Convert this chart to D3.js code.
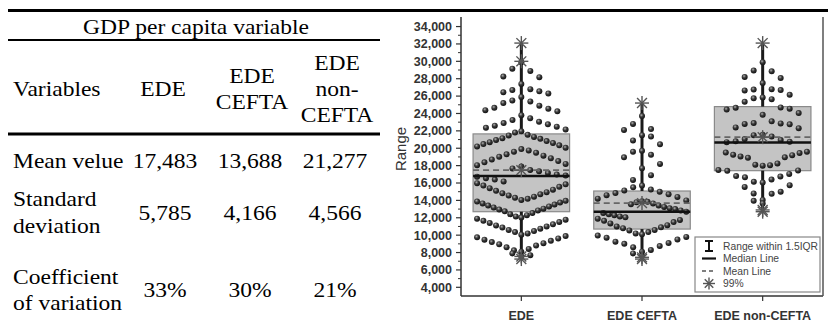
<!DOCTYPE html>
<html>
<head>
<meta charset="utf-8">
<script src="https://cdn.jsdelivr.net/npm/d3@7"></script>
<style>
  html, body { margin: 0; padding: 0; background: #fff; }
  svg { display: block; }
</style>
</head>
<body>
<svg id="fig" width="828" height="322"></svg>
<script>
// ---------- table content ----------
const groups = ["EDE", "EDE CEFTA", "EDE non-CEFTA"];
const tableTitle = "GDP per capita variable";
const firstHeader = "Variables";
const headerLines = [["EDE"], ["EDE", "CEFTA"], ["EDE", "non-", "CEFTA"]];
const rowLabels = [["Mean velue"], ["Standard", "deviation"], ["Coefficient", "of variation"]];
const meanValues = [17483, 13688, 21277];
const stdValues = [5785, 4166, 4566];
const cvValues = [0.33, 0.30, 0.21];

// ---------- box statistics per group ----------
const q1Values = [12700, 10700, 17420];
const medianValues = [16800, 12700, 20650];
const q3Values = [21650, 15080, 24790];
const whiskerLow = [7300, 7300, 12800];
const whiskerHigh = [32100, 25200, 32100];
const percentileMarks = [[32100, 30000, 7550, 7250], [25200, 7450, 7250], [32100, 12900, 12700]];

// ---------- individual observations ----------
const edeValues = [
  29900, 29150, 28900, 28250, 28180, 27400, 26800, 26700, 26550, 26450, 26300, 25900, 25500,
  25380, 25200, 24900, 24650, 24550, 24380, 24250, 23800, 23450, 23250, 23050, 22900, 22750,
  22600, 22480, 22350, 22150, 21950, 21800,
  21550, 21470, 21300, 21150, 21080, 20950, 20820, 20700, 20600, 20480, 20330, 20200, 20050,
  19900, 19750, 19600, 19480, 19300, 19150, 19020, 18850, 18700, 18520, 18380, 18200, 18050,
  17900, 17680, 17500, 17350, 17150, 16980, 16850, 16720, 16550, 16400, 16180, 15980, 15850,
  15700, 15560, 15400, 15230, 15100, 14950, 14820, 14700, 14560, 14420, 14300, 14180, 14050,
  13950, 13870, 13750, 13650, 13520, 13400, 13300, 13180, 13050, 12950, 12850, 12750,
  12550, 12420, 12300, 12150, 12020, 11900, 11780, 11650, 11520, 11400, 11250, 11120, 11000,
  10880, 10750, 10600, 10480, 10350, 10200, 10050, 9900, 9750, 9620, 9480, 9350, 9200, 9080,
  8950, 8800, 8600, 8420, 8250, 8080, 7900, 7700, 7550
];
const ceftaValues = [
  23700, 22800, 22200, 22100, 21500, 21350, 20900, 20450, 19700, 19600, 19250, 18950, 18200,
  17700, 16900, 16350, 15700, 15500, 15250, 15150, 15000, 14850, 14700, 14600, 14400, 14200,
  14000, 13900, 13850, 13800, 13650, 13550, 13400, 13250, 13100, 13000, 12850, 12700, 12550,
  12400, 12300, 12150, 12050, 11900, 11750, 11650, 11500, 11350, 11150, 11000, 10900, 10800,
  10600, 10550, 10350, 10200, 10100, 9950, 9800, 9700, 9500, 9250, 9100, 9000, 8750, 8600,
  8300, 8100, 7900, 7600
];
const nonCeftaValues = [
  29900, 28950, 28850, 28200, 28080, 27500, 26800, 26750, 26700, 26650, 26150, 25850, 25750,
  25650, 25350, 24700, 24650, 24550, 24450, 24050, 23850, 23100, 22900, 22850, 22800, 22750,
  22400, 22300, 21550, 21500, 21350, 21050, 20950, 20800, 20750, 20700, 19600, 19500, 19450,
  19250, 19200, 19050, 18950, 18900, 18250, 18100, 18050, 18000, 17500, 17450, 17400, 17050,
  16800, 16750, 16650, 16400, 16150, 16050, 15750, 15550, 15000, 14800, 14750, 14050, 13950,
  13650
];
const observations = [edeValues, ceftaValues, nonCeftaValues];

// ---------- axis ticks ----------
const majorTicks = [4000, 6000, 8000, 10000, 12000, 14000, 16000, 18000, 20000, 22000, 24000, 26000, 28000, 30000, 32000, 34000];
const minorTicks = [5000, 7000, 9000, 11000, 13000, 15000, 17000, 19000, 21000, 23000, 25000, 27000, 29000, 31000, 33000];
const yTitle = "Range";
const legendLabels = ["Range within 1.5IQR", "Median Line", "Mean Line", "99%"];

const svg = d3.select("#fig");
svg.append("rect").attr("width", 828).attr("height", 322).attr("fill", "#fff");

const serif = "'Liberation Serif', 'Times New Roman', serif";
const sans = "'Liberation Sans', Arial, sans-serif";
const TSX = 1.07; // slight horizontal widening of the table type

// ================= TABLE =================
const tbl = svg.append("g");
const tLeft = 8, tRight = 380;
const colX = d3.scalePoint().domain(groups).range([165, 335]);
const fmt = d3.format(",");
const pct = d3.format(".0%");

function tText(g, str, x, y, anchor) {
  return g.append("text")
    .attr("transform", `translate(${x},${y}) scale(${TSX},1)`)
    .attr("text-anchor", anchor || "middle")
    .attr("font-family", serif).attr("font-size", 22).attr("fill", "#000")
    .text(str);
}

// rules
svg.append("line").attr("x1", tLeft).attr("x2", 828).attr("y1", 10.5).attr("y2", 10.5)
  .attr("stroke", "#000").attr("stroke-width", 3);
tbl.append("line").attr("x1", tLeft).attr("x2", tRight).attr("y1", 40).attr("y2", 40)
  .attr("stroke", "#000").attr("stroke-width", 2);
tbl.append("line").attr("x1", tLeft).attr("x2", tRight).attr("y1", 134).attr("y2", 134)
  .attr("stroke", "#000").attr("stroke-width", 3);

tText(tbl, tableTitle, (tLeft + tRight) / 2 + 2, 34);

// header row: lines stacked around a common baseline
const headBase = 95.5, lineGap = 26.5;
tText(tbl, firstHeader, 13, headBase, "start");
headerLines.forEach((lines, i) => {
  const start = headBase - (lines.length - 1) * 26 / 2;
  lines.forEach((ln, j) => tText(tbl, ln, colX(groups[i]) + (i === 0 ? -2 : 2), start + j * 26));
});

// body rows
const rowBases = [167.8, 219.5, 297];
const rowData = [meanValues.map(fmt), stdValues.map(fmt), cvValues.map(pct)];
rowLabels.forEach((lines, r) => {
  const start = rowBases[r] - (lines.length - 1) * lineGap / 2;
  lines.forEach((ln, j) => tText(tbl, ln, 13, start + j * lineGap, "start"));
  rowData[r].forEach((v, i) => tText(tbl, v, colX(groups[i]), rowBases[r]));
});

// ================= BOX CHART =================
const plot = { left: 461, right: 823, top: 17, bottom: 296 };
const y = d3.scaleLinear().domain([3000, 35100]).range([plot.bottom, plot.top]);
const x = d3.scaleBand().domain(groups).range([plot.left, plot.right]);
const boxW = x.bandwidth() * 0.8;
const axisCol = "#333";

const chart = svg.append("g");

// radial shading for the dot markers
const defs = svg.append("defs");
const grad = defs.append("radialGradient").attr("id", "ball")
  .attr("cx", "40%").attr("cy", "35%").attr("r", "65%");
grad.append("stop").attr("offset", "0%").attr("stop-color", "#b0b0b0");
grad.append("stop").attr("offset", "45%").attr("stop-color", "#3a3a3a");
grad.append("stop").attr("offset", "100%").attr("stop-color", "#111");

// boxes
groups.forEach((gname, i) => {
  const cx = x(gname) + x.bandwidth() / 2;
  chart.append("rect")
    .attr("x", cx - boxW / 2).attr("width", boxW)
    .attr("y", y(q3Values[i])).attr("height", y(q1Values[i]) - y(q3Values[i]))
    .attr("fill", "#c4c4c4").attr("stroke", "#8a8a8a").attr("stroke-width", 1.2);
});

// whiskers
groups.forEach((gname, i) => {
  const cx = x(gname) + x.bandwidth() / 2;
  chart.append("line").attr("x1", cx).attr("x2", cx)
    .attr("y1", y(whiskerHigh[i])).attr("y2", y(q3Values[i]))
    .attr("stroke", "#1a1a1a").attr("stroke-width", 3);
  chart.append("line").attr("x1", cx).attr("x2", cx)
    .attr("y1", y(q1Values[i])).attr("y2", y(whiskerLow[i]))
    .attr("stroke", "#1a1a1a").attr("stroke-width", 3);
});

// lay out the observations: values are binned, and inside each bin the
// points farthest from the median sit in the middle while the rest fan out
function swarm(values, cx, median, halfWidth) {
  const binSize = 2000;
  const bins = d3.group(values, v => Math.floor(v / binSize));
  const out = [];
  let flip = 1;
  for (const [, vs] of bins) {
    const sorted = vs.slice().sort((a, b) => Math.abs(b - median) - Math.abs(a - median));
    const n = sorted.length;
    const half = Math.max(1, Math.ceil((n - 1) / 2));
    const step = Math.min(9, (halfWidth - 4) / half);
    sorted.forEach((v, k) => {
      const level = Math.ceil(k / 2);
      const side = (k % 2 === 1 ? -1 : 1) * flip;
      out.push({ v, px: cx + side * level * step });
    });
    flip = -flip;
  }
  return out;
}

groups.forEach((gname, i) => {
  const cx = x(gname) + x.bandwidth() / 2;
  const pts = swarm(observations[i], cx, medianValues[i], boxW / 2);
  chart.append("g").selectAll("circle").data(pts).join("circle")
    .attr("cx", d => d.px).attr("cy", d => y(d.v)).attr("r", 3)
    .attr("fill", "url(#ball)");
});

// median and mean lines
groups.forEach((gname, i) => {
  const cx = x(gname) + x.bandwidth() / 2;
  chart.append("line").attr("x1", cx - boxW / 2).attr("x2", cx + boxW / 2)
    .attr("y1", y(medianValues[i])).attr("y2", y(medianValues[i]))
    .attr("stroke", "#111").attr("stroke-width", 2.5);
  chart.append("line").attr("x1", cx - boxW / 2).attr("x2", cx + boxW / 2)
    .attr("y1", y(meanValues[i])).attr("y2", y(meanValues[i]))
    .attr("stroke", "#666").attr("stroke-width", 1.6).attr("stroke-dasharray", "6,4");
});

// asterisk markers
function star(g, cx, cy, r) {
  const s = g.append("g").attr("transform", `translate(${cx},${cy})`)
    .attr("stroke", "#555").attr("stroke-width", 1.4);
  [0, 45, 90, 135].forEach(a => {
    const rad = a * Math.PI / 180;
    s.append("line")
      .attr("x1", -r * Math.cos(rad)).attr("y1", -r * Math.sin(rad))
      .attr("x2", r * Math.cos(rad)).attr("y2", r * Math.sin(rad));
  });
}
groups.forEach((gname, i) => {
  const cx = x(gname) + x.bandwidth() / 2;
  percentileMarks[i].forEach(v => star(chart, cx, y(v), 7));
  star(chart, cx, y(meanValues[i]), 7);
});

// axes
const yAxis = chart.append("g");
yAxis.append("line").attr("x1", plot.left).attr("x2", plot.left)
  .attr("y1", plot.top).attr("y2", plot.bottom).attr("stroke", axisCol).attr("stroke-width", 1.5);
majorTicks.forEach(t => {
  yAxis.append("line").attr("x1", plot.left - 5).attr("x2", plot.left)
    .attr("y1", y(t)).attr("y2", y(t)).attr("stroke", axisCol).attr("stroke-width", 1.2);
  yAxis.append("text").attr("x", plot.left - 9).attr("y", y(t)).attr("dy", "0.35em")
    .attr("text-anchor", "end").attr("font-family", sans).attr("font-weight", "bold")
    .attr("font-size", 12.5).attr("fill", axisCol).text(fmt(t));
});
minorTicks.forEach(t => {
  yAxis.append("line").attr("x1", plot.left - 3).attr("x2", plot.left)
    .attr("y1", y(t)).attr("y2", y(t)).attr("stroke", axisCol).attr("stroke-width", 1);
});
chart.append("text")
  .attr("transform", `translate(406,149) rotate(-90)`)
  .attr("text-anchor", "middle").attr("font-family", sans).attr("font-size", 15)
  .attr("fill", axisCol).text(yTitle);

// bottom axis and right frame
chart.append("line").attr("x1", plot.left).attr("x2", plot.right)
  .attr("y1", plot.bottom).attr("y2", plot.bottom).attr("stroke", axisCol).attr("stroke-width", 1.5);
chart.append("line").attr("x1", plot.right).attr("x2", plot.right)
  .attr("y1", plot.top).attr("y2", plot.bottom).attr("stroke", "#555").attr("stroke-width", 1.5);
groups.forEach(gname => {
  const cx = x(gname) + x.bandwidth() / 2;
  chart.append("line").attr("x1", cx).attr("x2", cx)
    .attr("y1", plot.bottom).attr("y2", plot.bottom + 5).attr("stroke", axisCol).attr("stroke-width", 1.2);
  chart.append("text").attr("x", cx).attr("y", 320)
    .attr("text-anchor", "middle").attr("font-family", sans).attr("font-weight", "bold")
    .attr("font-size", 12.5).attr("fill", axisCol).text(gname);
});

// legend
const lg = chart.append("g").attr("transform", "translate(695,237)");
lg.append("rect").attr("width", 125).attr("height", 55)
  .attr("fill", "#fff").attr("stroke", "#888").attr("stroke-width", 1.2);
const rowY = [9, 21.5, 34, 46.5];
// range symbol
lg.append("path").attr("d", `M10,${rowY[0] - 5}H18M14,${rowY[0] - 5}V${rowY[0] + 5}M10,${rowY[0] + 5}H18`)
  .attr("stroke", "#111").attr("stroke-width", 2).attr("fill", "none");
lg.append("line").attr("x1", 7).attr("x2", 21).attr("y1", rowY[1]).attr("y2", rowY[1])
  .attr("stroke", "#111").attr("stroke-width", 2.2);
lg.append("line").attr("x1", 7).attr("x2", 21).attr("y1", rowY[2]).attr("y2", rowY[2])
  .attr("stroke", "#555").attr("stroke-width", 1.4).attr("stroke-dasharray", "4,3");
star(lg, 14, rowY[3], 6);
legendLabels.forEach((t, k) => {
  lg.append("text").attr("x", 28).attr("y", rowY[k]).attr("dy", "0.35em")
    .attr("font-family", sans).attr("font-size", 10.3).attr("fill", "#444").text(t);
});
</script>
</body>
</html>
